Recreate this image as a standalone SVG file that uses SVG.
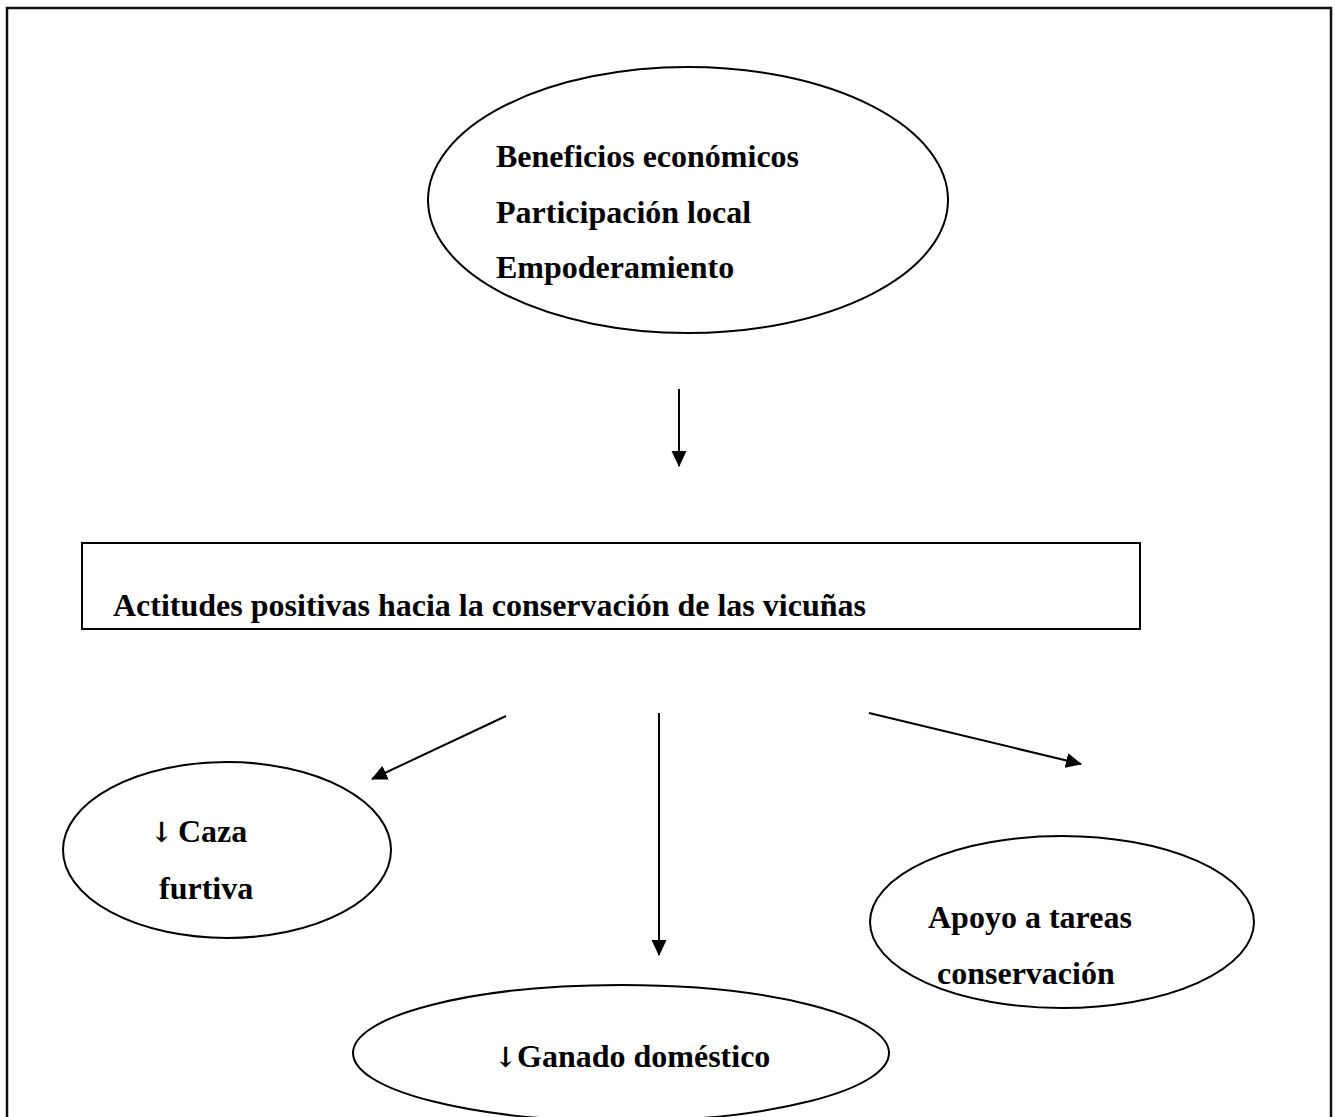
<svg xmlns="http://www.w3.org/2000/svg" width="1335" height="1117" viewBox="0 0 1335 1117">
<style>
.shape{fill:#fff;stroke:#000;stroke-width:2}
.conn{stroke:#000;stroke-width:2;fill:none}
.t{font-family:"Liberation Serif","Times New Roman",serif;font-weight:bold;font-size:32px;fill:#000}
.arr{font-family:"DejaVu Serif","Liberation Serif",serif;font-weight:bold;font-size:28px}
</style>
<defs>
<marker id="ah" markerUnits="userSpaceOnUse" markerWidth="16" markerHeight="16" viewBox="0 0 16 16" refX="15" refY="8" orient="auto">
<path d="M0,0.5 L16,8 L0,15.5 Z" fill="#000"/>
</marker>
</defs>
<rect width="1335" height="1117" fill="#fff"/>
<path d="M7,1117 V8 H1331 V1117" fill="none" stroke="#111" stroke-width="2.5"/>
<g id="node-beneficios">
<ellipse class="shape" cx="688" cy="200" rx="260" ry="133"/>
<text class="t" x="496" y="167">Beneficios económicos</text>
<text class="t" x="496" y="223">Participación local</text>
<text class="t" x="496" y="278">Empoderamiento</text>
</g>
<g id="node-actitudes">
<rect class="shape" x="82" y="543" width="1058" height="86"/>
<text class="t" x="113" y="616">Actitudes positivas hacia la conservación de las vicuñas</text>
</g>
<g id="node-caza">
<ellipse class="shape" cx="227" cy="850" rx="164" ry="88"/>
<text class="t" y="842"><tspan class="arr" x="150">↓</tspan> <tspan x="178">Caza</tspan></text>
<text class="t" x="159" y="899">furtiva</text>
</g>
<g id="node-apoyo">
<ellipse class="shape" cx="1062" cy="922" rx="192" ry="86"/>
<text class="t" x="928" y="928">Apoyo a tareas</text>
<text class="t" x="937" y="984">conservación</text>
</g>
<g id="node-ganado">
<ellipse class="shape" cx="621" cy="1053" rx="268" ry="68"/>
<text class="t" y="1067"><tspan class="arr" x="494">↓</tspan><tspan x="517">Ganado doméstico</tspan></text>
</g>
<g id="connectors">
<line class="conn" x1="679" y1="389" x2="679" y2="466" marker-end="url(#ah)"/>
<line class="conn" x1="506" y1="716" x2="372" y2="779" marker-end="url(#ah)"/>
<line class="conn" x1="659" y1="713" x2="659" y2="955" marker-end="url(#ah)"/>
<line class="conn" x1="869" y1="713" x2="1081" y2="764" marker-end="url(#ah)"/>
</g>
</svg>
